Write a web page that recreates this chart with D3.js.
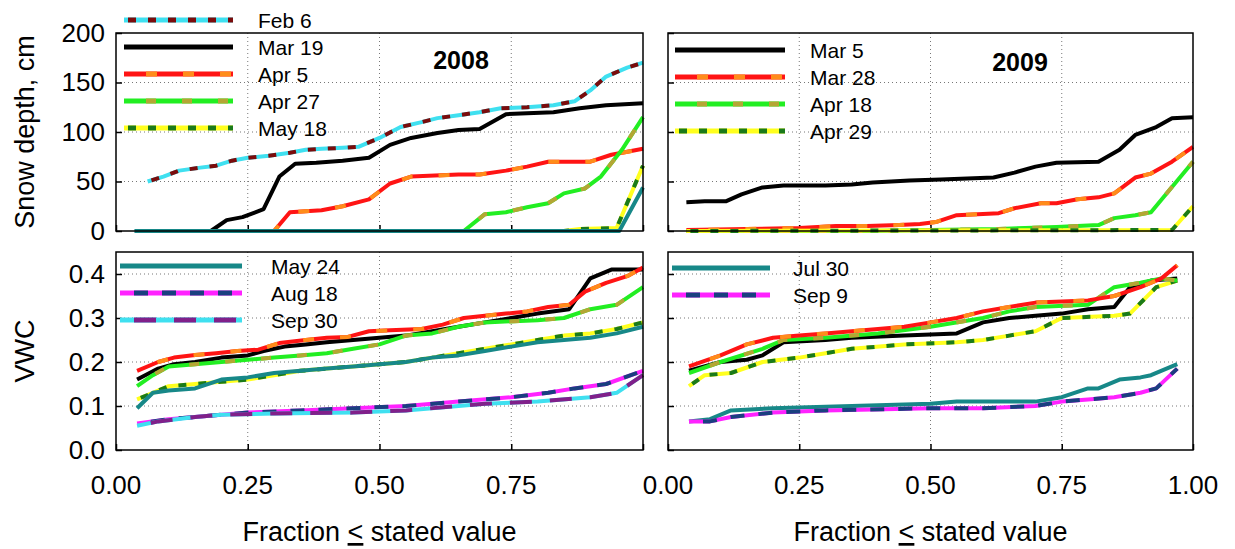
<!DOCTYPE html>
<html><head><meta charset="utf-8">
<script src="https://cdn.jsdelivr.net/npm/d3@7"></script>
<style>body{margin:0;background:#fff}svg{display:block;font-family:"Liberation Sans",Arial,sans-serif}</style>
</head><body><svg id="c" width="1235" height="549"></svg>
<script>
// ---------- DATA (fraction <= stated value, value) ----------
const xTicks = [0, 0.25, 0.5, 0.75, 1.0];
const snowTicks = [0, 50, 100, 150, 200];
const vwcTicks = [0, 0.1, 0.2, 0.3, 0.4];

// Snow depth 2008
const snow08_feb6 = [[0.06,50],[0.09,55],[0.12,61],[0.16,64],[0.19,66],[0.22,71],[0.25,74],[0.29,76],[0.33,79],[0.36,82],[0.39,83],[0.43,84],[0.46,85],[0.50,94],[0.54,105],[0.58,110],[0.61,114],[0.65,117],[0.69,120],[0.73,124],[0.78,125],[0.83,127],[0.87,131],[0.90,142],[0.93,156],[0.97,165],[1.0,170]];
const snow08_mar19 = [[0.04,0],[0.18,0],[0.21,11],[0.24,14],[0.28,22],[0.31,55],[0.34,68],[0.38,69],[0.43,71],[0.48,74],[0.52,87],[0.56,94],[0.61,99],[0.65,102],[0.69,103],[0.74,118],[0.78,119],[0.83,120],[0.88,124],[0.93,127],[1.0,129]];
const snow08_apr5 = [[0.04,0],[0.30,0],[0.33,19],[0.36,20],[0.39,21],[0.43,25],[0.48,32],[0.52,48],[0.56,55],[0.65,57],[0.69,57],[0.74,61],[0.78,65],[0.82,70],[0.90,70],[0.94,77],[1.0,83]];
const snow08_apr27 = [[0.04,0],[0.66,0],[0.70,17],[0.74,19],[0.78,24],[0.82,28],[0.85,38],[0.89,43],[0.92,55],[0.96,82],[1.0,115]];
const snow08_may18 = [[0.04,0],[0.85,0],[0.88,2],[0.95,3],[1.0,66]];
const snow08_may24 = [[0.035,0],[0.955,0],[1.0,44]];

// Snow depth 2009
const snow09_mar5 = [[0.035,29],[0.07,30],[0.11,30],[0.14,37],[0.18,44],[0.22,46],[0.30,46],[0.35,47],[0.39,49],[0.46,51],[0.52,52],[0.57,53],[0.62,54],[0.66,59],[0.70,65],[0.74,69],[0.82,70],[0.86,82],[0.89,97],[0.93,105],[0.96,114],[1.0,115]];
const snow09_mar28 = [[0.035,1],[0.15,2],[0.25,3],[0.32,5],[0.38,5],[0.44,6],[0.48,7],[0.51,9],[0.55,16],[0.59,17],[0.63,18],[0.66,23],[0.71,28],[0.74,28],[0.78,32],[0.82,34],[0.85,38],[0.89,54],[0.92,58],[0.96,70],[1.0,85]];
const snow09_apr18 = [[0.035,0],[0.38,0],[0.50,1],[0.63,2],[0.68,3],[0.74,4],[0.82,6],[0.85,13],[0.89,16],[0.92,19],[1.0,70]];
const snow09_apr29 = [[0.035,0],[0.96,1],[1.0,25]];

// VWC 2008
const vwc08_apr5 = [[0.04,0.18],[0.08,0.20],[0.11,0.21],[0.15,0.216],[0.19,0.22],[0.23,0.225],[0.27,0.228],[0.31,0.243],[0.36,0.25],[0.40,0.255],[0.44,0.257],[0.48,0.27],[0.52,0.272],[0.58,0.275],[0.62,0.285],[0.66,0.30],[0.70,0.305],[0.74,0.31],[0.78,0.315],[0.82,0.325],[0.86,0.33],[0.89,0.36],[0.93,0.38],[0.97,0.395],[1.0,0.415]];
const vwc08_mar19 = [[0.04,0.16],[0.08,0.185],[0.11,0.195],[0.15,0.20],[0.20,0.21],[0.25,0.215],[0.28,0.225],[0.32,0.235],[0.36,0.24],[0.40,0.245],[0.45,0.25],[0.50,0.255],[0.55,0.26],[0.60,0.27],[0.65,0.28],[0.70,0.29],[0.75,0.30],[0.80,0.31],[0.86,0.32],[0.90,0.39],[0.94,0.41],[1.0,0.41]];
const vwc08_apr27 = [[0.04,0.145],[0.07,0.17],[0.10,0.19],[0.15,0.195],[0.20,0.20],[0.25,0.205],[0.30,0.21],[0.35,0.215],[0.40,0.22],[0.45,0.23],[0.50,0.24],[0.55,0.26],[0.60,0.265],[0.65,0.28],[0.70,0.29],[0.80,0.295],[0.85,0.30],[0.90,0.32],[0.95,0.33],[1.0,0.37]];
const vwc08_may18 = [[0.04,0.115],[0.07,0.13],[0.10,0.145],[0.15,0.15],[0.20,0.155],[0.25,0.16],[0.30,0.17],[0.35,0.18],[0.40,0.185],[0.45,0.19],[0.50,0.195],[0.55,0.20],[0.60,0.21],[0.65,0.22],[0.70,0.23],[0.75,0.24],[0.80,0.25],[0.85,0.26],[0.90,0.265],[0.95,0.275],[1.0,0.29]];
const vwc08_may24 = [[0.04,0.095],[0.07,0.13],[0.10,0.135],[0.15,0.14],[0.20,0.16],[0.25,0.165],[0.30,0.175],[0.35,0.18],[0.40,0.185],[0.45,0.19],[0.50,0.195],[0.55,0.20],[0.60,0.21],[0.65,0.215],[0.70,0.225],[0.75,0.235],[0.80,0.245],[0.85,0.25],[0.90,0.255],[0.95,0.265],[1.0,0.28]];
const vwc08_aug18 = [[0.04,0.06],[0.10,0.07],[0.15,0.075],[0.20,0.08],[0.25,0.085],[0.35,0.09],[0.45,0.095],[0.55,0.10],[0.65,0.11],[0.75,0.12],[0.82,0.13],[0.87,0.14],[0.93,0.15],[1.0,0.18]];
const vwc08_sep30 = [[0.04,0.055],[0.08,0.065],[0.15,0.075],[0.20,0.08],[0.30,0.083],[0.45,0.085],[0.55,0.09],[0.65,0.10],[0.70,0.105],[0.80,0.11],[0.90,0.12],[0.95,0.13],[1.0,0.17]];

// VWC 2009
const vwc09_mar5 = [[0.04,0.18],[0.10,0.20],[0.15,0.205],[0.18,0.215],[0.22,0.245],[0.30,0.25],[0.35,0.255],[0.45,0.26],[0.55,0.265],[0.60,0.29],[0.65,0.30],[0.70,0.305],[0.75,0.31],[0.80,0.32],[0.85,0.325],[0.88,0.37],[0.92,0.385],[0.97,0.39]];
const vwc09_mar28 = [[0.04,0.19],[0.10,0.215],[0.15,0.24],[0.20,0.255],[0.25,0.26],[0.30,0.265],[0.35,0.27],[0.40,0.275],[0.45,0.28],[0.50,0.29],[0.55,0.30],[0.60,0.315],[0.65,0.325],[0.70,0.335],[0.80,0.34],[0.85,0.35],[0.90,0.37],[0.94,0.39],[0.97,0.42]];
const vwc09_apr18 = [[0.04,0.175],[0.10,0.20],[0.18,0.23],[0.22,0.25],[0.30,0.255],[0.40,0.265],[0.50,0.28],[0.60,0.30],[0.65,0.315],[0.70,0.325],[0.80,0.33],[0.85,0.37],[0.90,0.38],[0.94,0.39],[0.97,0.385]];
const vwc09_apr29 = [[0.04,0.145],[0.07,0.17],[0.12,0.175],[0.18,0.20],[0.25,0.21],[0.30,0.22],[0.35,0.23],[0.45,0.24],[0.55,0.245],[0.60,0.25],[0.65,0.26],[0.70,0.27],[0.75,0.30],[0.85,0.305],[0.88,0.31],[0.93,0.37],[0.97,0.385]];
const vwc09_jul30 = [[0.04,0.065],[0.08,0.07],[0.12,0.09],[0.20,0.095],[0.35,0.10],[0.50,0.105],[0.55,0.11],[0.70,0.11],[0.75,0.12],[0.80,0.14],[0.82,0.14],[0.86,0.16],[0.90,0.165],[0.92,0.17],[0.97,0.195]];
const vwc09_sep9 = [[0.04,0.065],[0.08,0.065],[0.12,0.075],[0.20,0.085],[0.30,0.09],[0.50,0.095],[0.60,0.095],[0.70,0.10],[0.75,0.11],[0.80,0.115],[0.85,0.12],[0.90,0.13],[0.93,0.14],[0.97,0.185]];

// ---------- STYLES ----------
const ST = {
  cyanRed:  {c1:"#3fe0f0", c2:"#7a0c0c", dash:"8,12", off:-4},
  black:    {c1:"#000000"},
  redOr:    {c1:"#ff1414", c2:"#ff8c1a", dash:"11,26", off:-22},
  greenOl:  {c1:"#22ee22", c2:"#b4a634", dash:"10,26", off:-22},
  yelGreen: {c1:"#ffff1e", c2:"#1a7a1a", dash:"8,12", off:-4},
  teal:     {c1:"#178888"},
  magNavy:  {c1:"#ff22ff", c2:"#1a3f80", dash:"14,14", off:-14},
  cyanPur:  {c1:"#3fe0f0", c2:"#80208a", dash:"22,18", off:-14}
};

const svg = d3.select("#c");
const FONT = '"Liberation Sans",Arial,sans-serif';

const panels = [
  {x0:116,x1:643,y0:33,y1:231,yd:[0,200],yt:snowTicks,ylab:true,xlab:false,fmt:d3.format("d"),
   series:[[snow08_feb6,"cyanRed"],[snow08_mar19,"black"],[snow08_apr5,"redOr"],[snow08_apr27,"greenOl"],[snow08_may18,"yelGreen"],[snow08_may24,"teal"]],
   legend:{lx0:124,lx1:233,tx:258,rows:[[20,"Feb 6","cyanRed"],[47,"Mar 19","black"],[74,"Apr 5","redOr"],[101,"Apr 27","greenOl"],[128,"May 18","yelGreen"]]},
   year:{t:"2008",x:461,y:60}},
  {x0:668,x1:1193,y0:33,y1:231,yd:[0,200],yt:snowTicks,ylab:false,xlab:false,fmt:d3.format("d"),
   series:[[snow09_mar5,"black"],[snow09_mar28,"redOr"],[snow09_apr18,"greenOl"],[snow09_apr29,"yelGreen"]],
   legend:{lx0:675,lx1:785,tx:810,rows:[[50,"Mar 5","black"],[77,"Mar 28","redOr"],[104,"Apr 18","greenOl"],[131,"Apr 29","yelGreen"]]},
   year:{t:"2009",x:1020,y:62}},
  {x0:116,x1:643,y0:252,y1:450,yd:[0,0.45],yt:vwcTicks,ylab:true,xlab:true,xlabs:[0,0.25,0.5,0.75],fmt:d3.format(".1f"),
   series:[[vwc08_mar19,"black"],[vwc08_apr5,"redOr"],[vwc08_apr27,"greenOl"],[vwc08_may18,"yelGreen"],[vwc08_may24,"teal"],[vwc08_aug18,"magNavy"],[vwc08_sep30,"cyanPur"]],
   legend:{lx0:120,lx1:242,tx:271,rows:[[266,"May 24","teal"],[293,"Aug 18","magNavy"],[320,"Sep 30","cyanPur"]]}},
  {x0:668,x1:1193,y0:252,y1:450,yd:[0,0.45],yt:vwcTicks,ylab:false,xlab:true,xlabs:[0,0.25,0.5,0.75,1.0],fmt:d3.format(".1f"),
   series:[[vwc09_apr29,"yelGreen"],[vwc09_mar5,"black"],[vwc09_apr18,"greenOl"],[vwc09_mar28,"redOr"],[vwc09_jul30,"teal"],[vwc09_sep9,"magNavy"]],
   legend:{lx0:672,lx1:770,tx:793,rows:[[268,"Jul 30","teal"],[295,"Sep 9","magNavy"]]}}
];

function stroke(sel, pathD, st, w) {
  sel.append("path").attr("d", pathD).attr("fill","none").attr("stroke", st.c1)
     .attr("stroke-width", w).attr("stroke-linejoin","round");
  if (st.c2) {
    sel.append("path").attr("d", pathD).attr("fill","none").attr("stroke", st.c2)
       .attr("stroke-width", w).attr("stroke-dasharray", st.dash).attr("stroke-dashoffset", st.off||0)
       .attr("stroke-linejoin","round");
  }
}

panels.forEach(p => {
  const x = d3.scaleLinear().domain([0,1]).range([p.x0,p.x1]);
  const y = d3.scaleLinear().domain(p.yd).range([p.y1,p.y0]);
  const g = svg.append("g");

  // grid
  const grid = g.append("g").attr("stroke","#777").attr("stroke-width",1).attr("stroke-dasharray","1,3");
  [0.25,0.5,0.75].forEach(v => grid.append("line").attr("x1",x(v)).attr("x2",x(v)).attr("y1",p.y0).attr("y2",p.y1));
  p.yt.filter(v => v>0 && y(v)>p.y0+1).forEach(v => grid.append("line").attr("x1",p.x0).attr("x2",p.x1).attr("y1",y(v)).attr("y2",y(v)));

  // inward ticks
  const ya = g.append("g").attr("transform",`translate(${p.x0},0)`)
    .call(d3.axisLeft(y).tickValues(p.yt).tickSize(-6).tickSizeOuter(0).tickFormat(p.ylab ? p.fmt : ""));
  ya.select(".domain").remove();
  ya.selectAll("line").attr("stroke","#000").attr("stroke-width",1.5);
  ya.selectAll("text").attr("x",-11).attr("font-size",26).attr("font-family",FONT).attr("fill","#000");

  const xa = g.append("g").attr("transform",`translate(0,${p.y1})`)
    .call(d3.axisBottom(x).tickValues(xTicks).tickSize(-6).tickSizeOuter(0).tickFormat(""));
  xa.select(".domain").remove();
  xa.selectAll("line").attr("stroke","#000").attr("stroke-width",1.5);

  if (p.xlab) {
    g.selectAll("text.xl").data(p.xlabs).join("text").attr("class","xl")
      .attr("x", d => x(d)).attr("y", p.y1+44).attr("text-anchor","middle")
      .attr("font-size",26).attr("font-family",FONT).text(d => d3.format(".2f")(d));
    const t = g.append("text").attr("x",(p.x0+p.x1)/2).attr("y",p.y1+91).attr("text-anchor","middle")
      .attr("font-size",27).attr("font-family",FONT);
    t.append("tspan").text("Fraction ");
    t.append("tspan").attr("text-decoration","underline").text("<");
    t.append("tspan").text(" stated value");
  }

  // series
  const line = d3.line().x(d => x(d[0])).y(d => y(d[1]));
  const sg = g.append("g");
  p.series.forEach(([data, key]) => stroke(sg, line(data), ST[key], 4));

  // frame
  g.append("rect").attr("x",p.x0).attr("y",p.y0).attr("width",p.x1-p.x0).attr("height",p.y1-p.y0)
    .attr("fill","none").attr("stroke","#000").attr("stroke-width",1.5);

  // legend
  const L = p.legend;
  L.rows.forEach(([ry, label, key]) => {
    stroke(g, `M${L.lx0},${ry}L${L.lx1},${ry}`, ST[key], 5);
    g.append("text").attr("x",L.tx).attr("y",ry+7.5).attr("font-size",21).attr("font-family",FONT).text(label);
  });

  if (p.year) {
    g.append("text").attr("x",p.year.x).attr("y",p.year.y+9).attr("text-anchor","middle")
      .attr("font-size",25).attr("font-weight","bold").attr("font-family",FONT).text(p.year.t);
  }
});

// y axis titles
svg.append("text").attr("transform","translate(34,132) rotate(-90)").attr("text-anchor","middle")
  .attr("font-size",27).attr("font-family",FONT).text("Snow depth, cm");
svg.append("text").attr("transform","translate(34,351) rotate(-90)").attr("text-anchor","middle")
  .attr("font-size",27).attr("font-family",FONT).text("VWC");
</script></body></html>
